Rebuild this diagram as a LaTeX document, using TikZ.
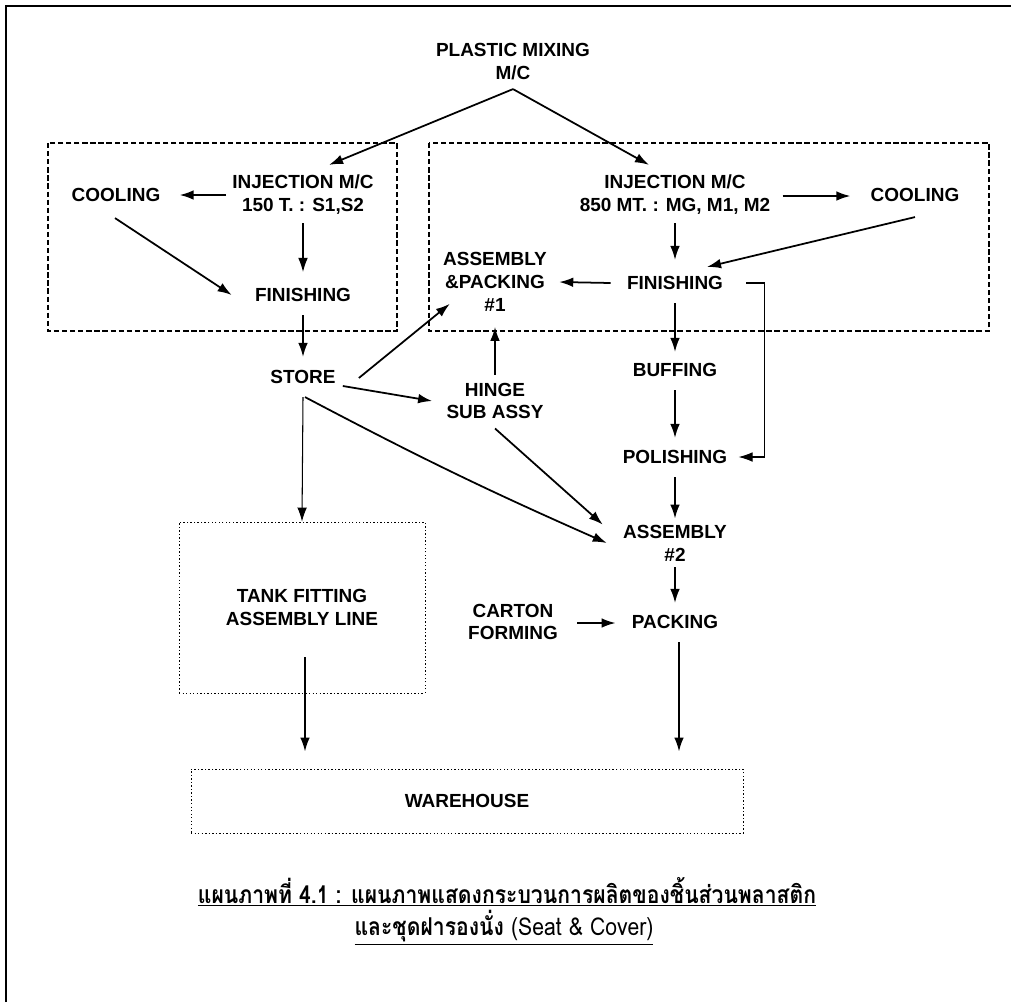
\documentclass[tikz,border=0pt]{standalone}
\usepackage{fontspec}
\usepackage{tikz}
\usetikzlibrary{arrows.meta,calc}
\newfontfamily\lblfont{Liberation Sans}
\newfontfamily\thaifont[Script=Thai,FakeStretch=0.86]{Loma}

\begin{document}
\begin{tikzpicture}[x=0.02cm,y=-0.02cm,
	lbl/.style={inner sep=0pt,align=center,font=\lblfont\bfseries\fontsize{10.8}{13}\selectfont},
	arr/.style={line width=1pt,-{Latex[length=8pt,width=5.5pt]}},
	tarr/.style={line width=0.6pt,-{Latex[length=8pt,width=5.5pt]}},
	group/.style={line width=1.1pt,dash pattern=on 3pt off 1.6pt},
	dotbox/.style={lbl,draw,line width=0.5pt,dash pattern=on 0.8pt off 1.2pt},
	caption/.style={inner sep=0pt,font=\thaifont\bfseries\fontsize{14}{16}\selectfont}]
	\useasboundingbox (0,0) rectangle (1011,1002);
	% the page frame
	\draw[line width=0.9pt] (6,1002) -- (6,6) -- (1011,6);
	%% the two dashed groups
	\draw[group] (48,143) rectangle (397,331);
	\draw[group] (429,143) rectangle (989,331);
	%% the labels
	\node[lbl] (mix) at (513,61.5) {PLASTIC MIXING\\M/C};
	\node[lbl] (inj1) at (303,195) {INJECTION M/C\\150 T. : S1,S2};
	\node[lbl] (cool1) at (116,195) {COOLING};
	\node[lbl] (fin1) at (303,295) {FINISHING};
	\node[lbl] (store) at (303,377) {STORE};
	\node[lbl] (inj2) at (675,195) {INJECTION M/C\\850 MT. : MG, M1, M2};
	\node[lbl] (cool2) at (915,195) {COOLING};
	\node[lbl] (fin2) at (675,283) {FINISHING};
	\node[lbl] (ap1) at (495,282) {ASSEMBLY\\\&PACKING\\\#1};
	\node[lbl] (hinge) at (495,401) {HINGE\\SUB ASSY};
	\node[lbl] (buff) at (675,370) {BUFFING};
	\node[lbl] (pol) at (675,457) {POLISHING};
	\node[lbl] (as2) at (675,543) {ASSEMBLY\\\#2};
	\node[lbl] (carton) at (513,622) {CARTON\\FORMING};
	\node[lbl] (pack) at (675,622) {PACKING};
	\node[dotbox,minimum width=4.92cm,minimum height=3.42cm] (tank) at (302,607.5) {TANK FITTING\\ASSEMBLY LINE};
	\node[dotbox,minimum width=11.04cm,minimum height=1.28cm] (wh) at (467,801) {WAREHOUSE};
	%% the caption
	\node[caption] (cap1) at (507,892) {\underline{แผนภาพที่ 4.1 : แผนภาพแสดงกระบวนการผลิตของชิ้นส่วนพลาสติก}};
	\node[caption] (cap2) at (504,928) {\underline{และชุดฝารองนั่ง {\mdseries (Seat \& Cover)}}};
	% from the mixer
	\draw[arr] ($(mix.south)+(0,9)$) -- ($(inj1.north)+(26,-10)$);
	\draw[arr] ($(mix.south)+(0,9)$) -- ($(inj2.north)+(-26,-10)$);
	% left group
	\draw[arr] ($(inj1.west)+(-6,0)$) -- ($(cool1.east)+(19,0)$);
	\draw[tarr] ($(inj1.south)+(0,8)$) -- ($(fin1.north)+(0,-16)$);
	\draw[arr] ($(cool1.south)+(-1,16)$) -- ($(fin1.west)+(-23,0)$);
	\draw[arr] ($(fin1.south)+(0,13)$) -- ($(store.north)+(0,-13)$);
	% right group
	\draw[arr] ($(inj2.east)+(12,1)$) -- ($(cool2.west)+(-20,1)$);
	\draw[arr] ($(inj2.south)+(0,8)$) -- ($(fin2.north)+(0,-16)$);
	\draw[arr] ($(cool2.south)+(0,15)$) -- ($(fin2.north)+(32,-9)$);
	\draw[arr] ($(fin2.west)+(-16,0)$) -- ($(ap1.east)+(12,0)$);
	\draw[tarr] ($(fin2.east)+(23,0)$) -- ++(18,0) |- ($(pol.east)+(11,0)$);
	\draw[arr] ($(fin2.south)+(0,13)$) -- ($(buff.north)+(0,-11)$);
	\draw[arr] ($(buff.south)+(0,13)$) -- ($(pol.north)+(0,-12)$);
	\draw[arr] ($(pol.south)+(0,13)$) -- ($(as2.north)+(0,-6)$);
	\draw[arr] ($(as2.south)+(0,6)$) -- ($(pack.north)+(0,-12)$);
	\draw[arr] ($(carton.east)+(19,1)$) -- ($(pack.west)+(-16,1)$);
	\draw[arr] ($(pack.south)+(4,13)$) -- ($(pack.south |- wh.north)+(4,-17)$);
	% out of the store
	\draw[arr] ($(store.east)+(23,1)$) -- ($(ap1.south west)+(7,-8)$);
	\draw[arr] ($(store.east)+(7,9)$) -- ($(hinge.west)+(-14,0)$);
	\draw[arr] ($(hinge.north)+(0,-8)$) -- ($(ap1.south)+(0,15)$);
	\draw[arr] ($(hinge.south)+(0,9)$) -- ($(as2.north west)+(-20,0)$);
	\draw[arr] ($(store.south)+(2,13)$) to[bend right=2] ($(as2.west)+(-16,0)$);
	\draw[tarr] ($(store.south)+(0,13)$) -- (tank.north);
	\draw[arr] ($(tank.south)+(3,-36)$) -- ($(tank.south |- wh.north)+(3,-17)$);
\end{tikzpicture}
\end{document}
